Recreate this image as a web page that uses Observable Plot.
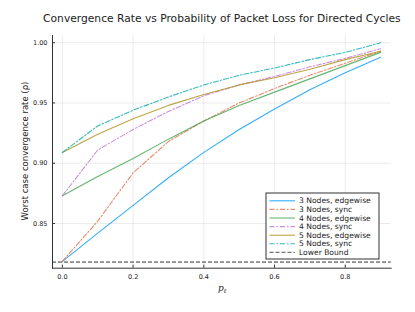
<!DOCTYPE html>
<html>
<head>
<meta charset="utf-8">
<script src="https://cdn.jsdelivr.net/npm/d3@7"></script>
<script src="https://cdn.jsdelivr.net/npm/@observablehq/plot@0.6"></script>
<style>
  html, body { margin: 0; padding: 0; background: #fff; }
  #chart { position: relative; width: 415px; height: 312px; }
</style>
</head>
<body>
<div id="chart"></div>
<script>
// ---- data ----
const pLoss = [0, 0.1, 0.2, 0.3, 0.4, 0.5, 0.6, 0.7, 0.8, 0.9];
const nodes3Edgewise = [0.8186, 0.842, 0.865, 0.888, 0.909, 0.928, 0.945, 0.961, 0.975, 0.988];
const nodes3Sync     = [0.8186, 0.852, 0.892, 0.918, 0.935, 0.950, 0.962, 0.973, 0.983, 0.993];
const nodes4Edgewise = [0.873, 0.889, 0.904, 0.920, 0.935, 0.948, 0.959, 0.970, 0.981, 0.992];
const nodes4Sync     = [0.873, 0.911, 0.928, 0.943, 0.956, 0.965, 0.972, 0.980, 0.987, 0.995];
const nodes5Edgewise = [0.909, 0.924, 0.937, 0.948, 0.957, 0.965, 0.971, 0.978, 0.986, 0.993];
const nodes5Sync     = [0.909, 0.931, 0.944, 0.955, 0.965, 0.973, 0.979, 0.986, 0.992, 1.000];
const lowerBound = 0.818;
const seriesNames = ["3 Nodes, edgewise", "3 Nodes, sync", "4 Nodes, edgewise", "4 Nodes, sync", "5 Nodes, edgewise", "5 Nodes, sync"];
const seriesValues = [nodes3Edgewise, nodes3Sync, nodes4Edgewise, nodes4Sync, nodes5Edgewise, nodes5Sync];
const lowerBoundName = "Lower Bound";
const xTicks = [0, 0.2, 0.4, 0.6, 0.8];
const yTicks = [0.85, 0.90, 0.95, 1.00];
const titleText = "Convergence Rate vs Probability of Packet Loss for Directed Cycles";
const yLabel = "Worst case convergence rate (ρ)";

// ---- styles ----
const colors = ["#009AFA", "#E36F47", "#3EA44E", "#C371D2", "#AC8E18", "#00AAAE"];
const dashes = [null, "5,2,1.5,2", null, "5,2,1.5,2", null, "5,2,1.5,2"];
const FONT = "DejaVu Sans, sans-serif";

const rows = [];
seriesValues.forEach((vals, s) => vals.forEach((v, i) => rows.push({series: seriesNames[s], p: pLoss[i], rho: v})));

const lineMarks = seriesNames.map((name, s) =>
  Plot.line(rows.filter(d => d.series === name), {
    x: "p", y: "rho", stroke: colors[s], strokeWidth: 1.1, strokeOpacity: 0.8,
    strokeDasharray: dashes[s] || undefined
  })
);

const chart = Plot.plot({
  width: 415,
  height: 312,
  marginLeft: 52,
  marginRight: 24.3,
  marginTop: 35,
  marginBottom: 44.3,
  style: {fontFamily: FONT, background: "#fff", overflow: "visible"},
  x: {domain: [-0.028, 0.93]},
  y: {domain: [0.8129, 1.006]},
  marks: [
    Plot.gridX(xTicks, {stroke: "#000", strokeOpacity: 0.08}),
    Plot.gridY(yTicks, {stroke: "#000", strokeOpacity: 0.08}),
    ...lineMarks,
    Plot.ruleY([lowerBound], {stroke: "#333", strokeWidth: 1, strokeDasharray: "4,2"}),
    Plot.frame({anchor: "left", stroke: "#333"}),
    Plot.frame({anchor: "bottom", stroke: "#333"}),
    // inward tick marks
    Plot.axisX(xTicks, {tickSize: 3, text: null, dy: -3, stroke: "#333", label: null}),
    Plot.axisY(yTicks, {tickSize: 3, text: null, dx: 3, stroke: "#333", label: null}),
    // tick labels
    Plot.axisX(xTicks, {tickSize: 0, tickPadding: 6, fontSize: 6.5, fill: "#222", label: null, tickFormat: d3.format(".1f")}),
    Plot.axisY(yTicks, {tickSize: 0, tickPadding: 5, fontSize: 6.5, fill: "#222", label: null, tickFormat: d3.format(".2f")}),
    // title
    Plot.text([titleText], {frameAnchor: "top", dy: -21, fontSize: 10.7, fill: "#222", fontFamily: FONT})
  ]
});

document.getElementById("chart").appendChild(chart);

const svg = d3.select(chart);

// y label
svg.append("text")
  .attr("transform", "translate(25,151) rotate(-90)")
  .attr("text-anchor", "middle").attr("dy", "0.35em")
  .attr("font-family", FONT).attr("font-size", 8.5).attr("fill", "#222")
  .text(yLabel);

// x label: p with subscript ℓ
const xl = svg.append("text")
  .attr("x", 218).attr("y", 291).attr("text-anchor", "start")
  .attr("font-family", "DejaVu Serif, serif").attr("font-style", "italic")
  .attr("font-size", 9).attr("fill", "#222");
xl.append("tspan").text("p");
xl.append("tspan").attr("font-size", 6.5).attr("dy", 2).text("ℓ");

// legend
const legendNames = [...seriesNames, lowerBoundName];
const legendColors = [...colors, "#555"];
const legendDashes = [...dashes, "4,2"];
const lg = svg.append("g").attr("font-family", FONT);
lg.append("rect").attr("x", 266).attr("y", 193).attr("width", 113).attr("height", 66)
  .attr("fill", "#fff").attr("stroke", "#333").attr("stroke-width", 1);
legendNames.forEach((name, i) => {
  const y = 200.8 + 8.6 * i;
  lg.append("line").attr("x1", 269.5).attr("x2", 295).attr("y1", y).attr("y2", y)
    .attr("stroke", legendColors[i]).attr("stroke-width", 1.1).attr("stroke-opacity", 0.8)
    .attr("stroke-dasharray", legendDashes[i]);
  lg.append("text").attr("x", 299).attr("y", y).attr("dy", "0.35em")
    .attr("text-anchor", "start")
    .attr("font-size", 7.6).attr("fill", "#222").text(name);
});
</script>
</body>
</html>
